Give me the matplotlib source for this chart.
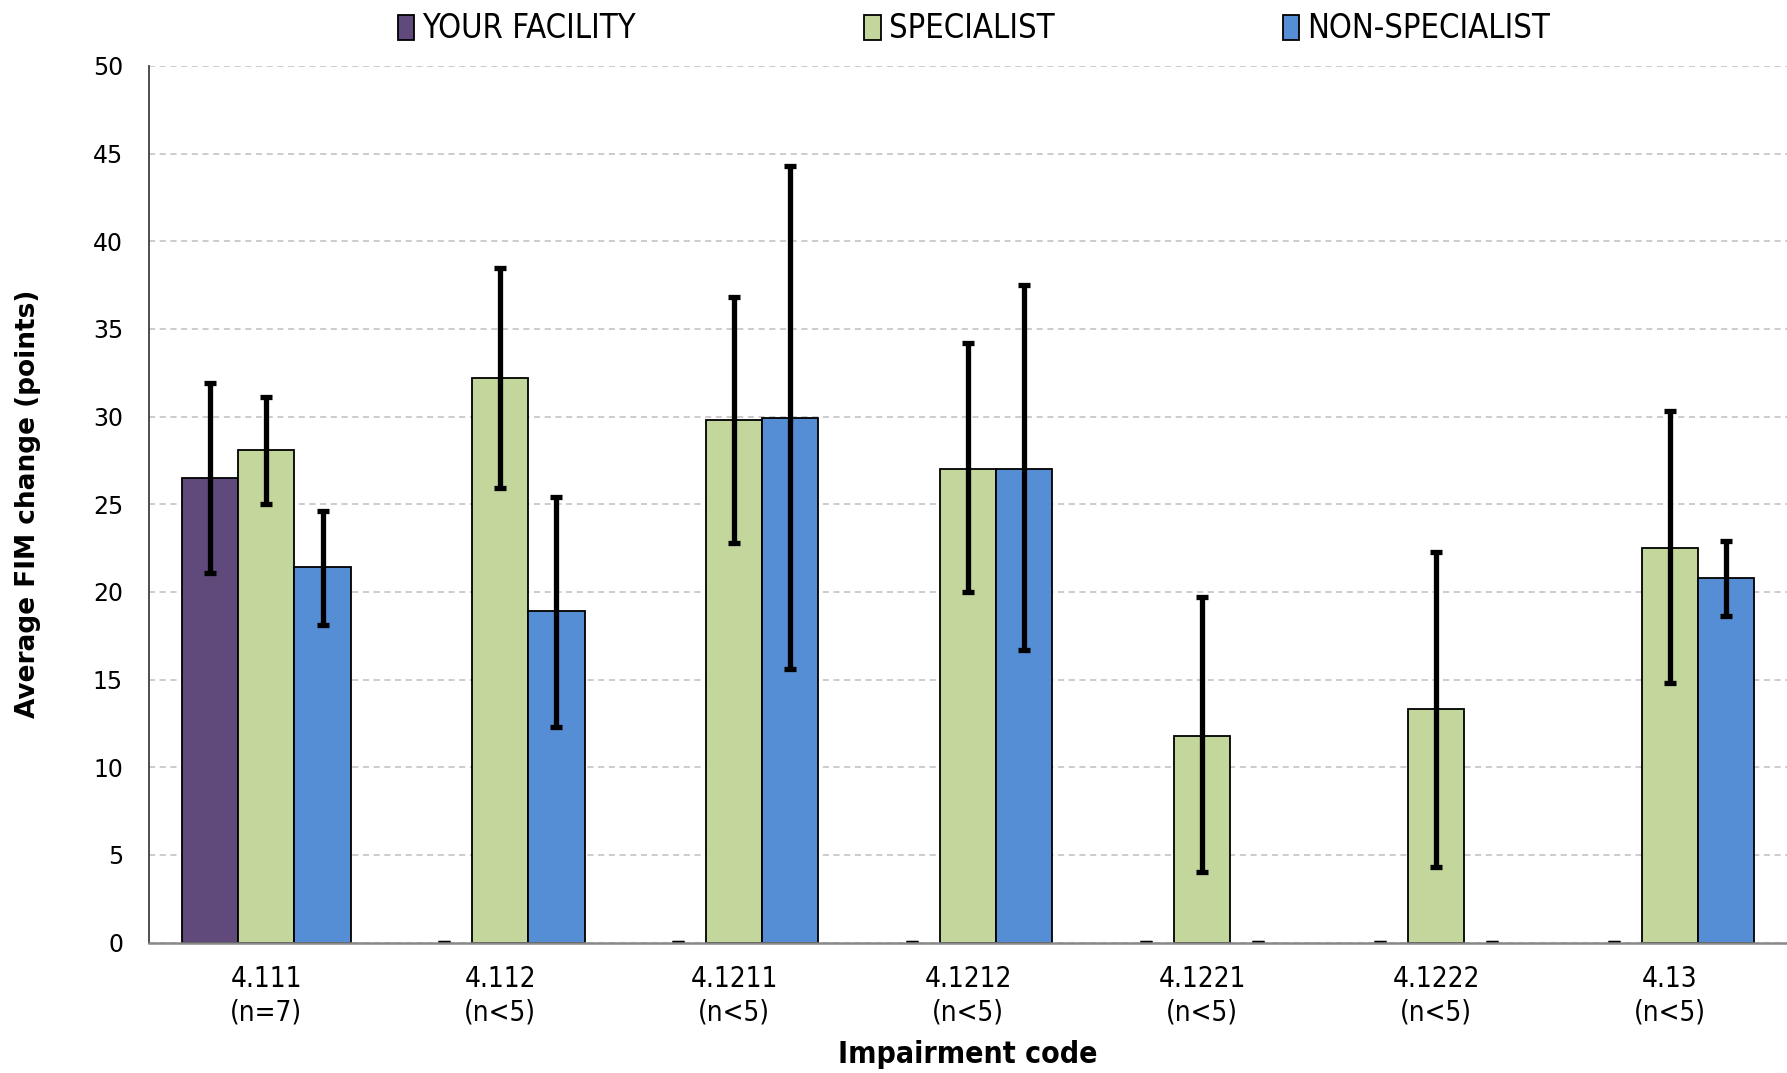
import matplotlib
matplotlib.use('Agg')
import matplotlib.pyplot as plt
from matplotlib.patches import Patch
from matplotlib import font_manager
import numpy as np

codes = ['4.111\n(n=7)', '4.112\n(n<5)', '4.1211\n(n<5)', '4.1212\n(n<5)',
         '4.1221\n(n<5)', '4.1222\n(n<5)', '4.13\n(n<5)']
series = ['YOUR FACILITY', 'SPECIALIST', 'NON-SPECIALIST']

facility = [26.5, 0, 0, 0, 0, 0, 0]
facility_lo = [21.1, 0, 0, 0, 0, 0, 0]
facility_hi = [31.9, 0, 0, 0, 0, 0, 0]

specialist = [28.1, 32.2, 29.8, 27.0, 11.8, 13.3, 22.5]
specialist_lo = [25.0, 25.9, 22.8, 20.0, 4.0, 4.3, 14.8]
specialist_hi = [31.1, 38.5, 36.8, 34.2, 19.7, 22.3, 30.3]

nonspecialist = [21.4, 18.9, 29.9, 27.0, 0, 0, 20.8]
nonspecialist_lo = [18.1, 12.3, 15.6, 16.7, 0, 0, 18.6]
nonspecialist_hi = [24.6, 25.4, 44.3, 37.5, 0, 0, 22.9]

colors = ['#604A7B', '#C3D69B', '#558ED5']

# condensed face if the system has one
names = set(f.name for f in font_manager.fontManager.ttflist)
if 'DejaVu Sans Condensed' in names:
    narrow = ['DejaVu Sans Condensed', 'DejaVu Sans']
elif 'Liberation Sans Narrow' in names:
    narrow = ['Liberation Sans Narrow', 'DejaVu Sans']
else:
    narrow = ['DejaVu Sans']

fig = plt.figure(figsize=(17.87, 10.73), dpi=100)
ax = fig.add_axes([0.0836, 0.1216, 0.9164, 0.8169])

x = np.arange(len(codes))
w = 0.24
data = [(facility, facility_lo, facility_hi),
        (specialist, specialist_lo, specialist_hi),
        (nonspecialist, nonspecialist_lo, nonspecialist_hi)]

for i, (vals, lo, hi) in enumerate(data):
    vals = np.array(vals)
    err = [vals - np.array(lo), np.array(hi) - vals]
    lw = [1.3 if v > 0 else 0 for v in vals]
    ax.bar(x + (i - 1) * w, vals, width=w, color=colors[i], edgecolor='black',
           linewidth=lw, zorder=2)
    ax.errorbar(x + (i - 1) * w, vals, yerr=err, fmt='none', ecolor='black',
                elinewidth=3.8, capsize=4.5, capthick=3.8, zorder=3)

ax.set_xlim(-0.5, len(codes) - 0.5)
ax.set_ylim(0, 50)
ax.set_yticks(np.arange(0, 51, 5))
ax.set_xticks(x)
ax.set_xticklabels(codes, family=narrow, fontstretch='condensed', fontsize=20, linespacing=1.25)
for t in ax.get_yticklabels():
    t.set_fontsize(17)
ax.tick_params(axis='both', length=0)
ax.tick_params(axis='y', pad=19)
ax.tick_params(axis='x', pad=16)

ax.yaxis.grid(True, color='#BFBFBF', linestyle=(0, (4, 3)), linewidth=1.1, zorder=0)
ax.set_axisbelow(True)
for s in ['top', 'right']:
    ax.spines[s].set_visible(False)
ax.spines['left'].set_color('#404040')
ax.spines['left'].set_linewidth(1.3)
ax.spines['bottom'].set_color('#898989')
ax.spines['bottom'].set_linewidth(1.8)
ax.spines['bottom'].set_zorder(4)

ax.set_ylabel('Average FIM change (points)', fontsize=19, fontweight='bold')
ax.set_xlabel('Impairment code', family=narrow, fontstretch='condensed', fontsize=21.7,
              fontweight='bold', labelpad=10)
ax.yaxis.set_label_coords(-0.066, 0.5)

handles = [Patch(facecolor=c, edgecolor='black', linewidth=1.3) for c in colors]
fig.legend(handles, series, loc='center', bbox_to_anchor=(0.545, 0.973), ncol=3,
           frameon=False, prop={'family': narrow, 'stretch': 'condensed', 'size': 23.5},
           handlelength=0.5, handleheight=0.8, handletextpad=0.25, columnspacing=7.0)

fig.savefig('out.png', dpi=100)
